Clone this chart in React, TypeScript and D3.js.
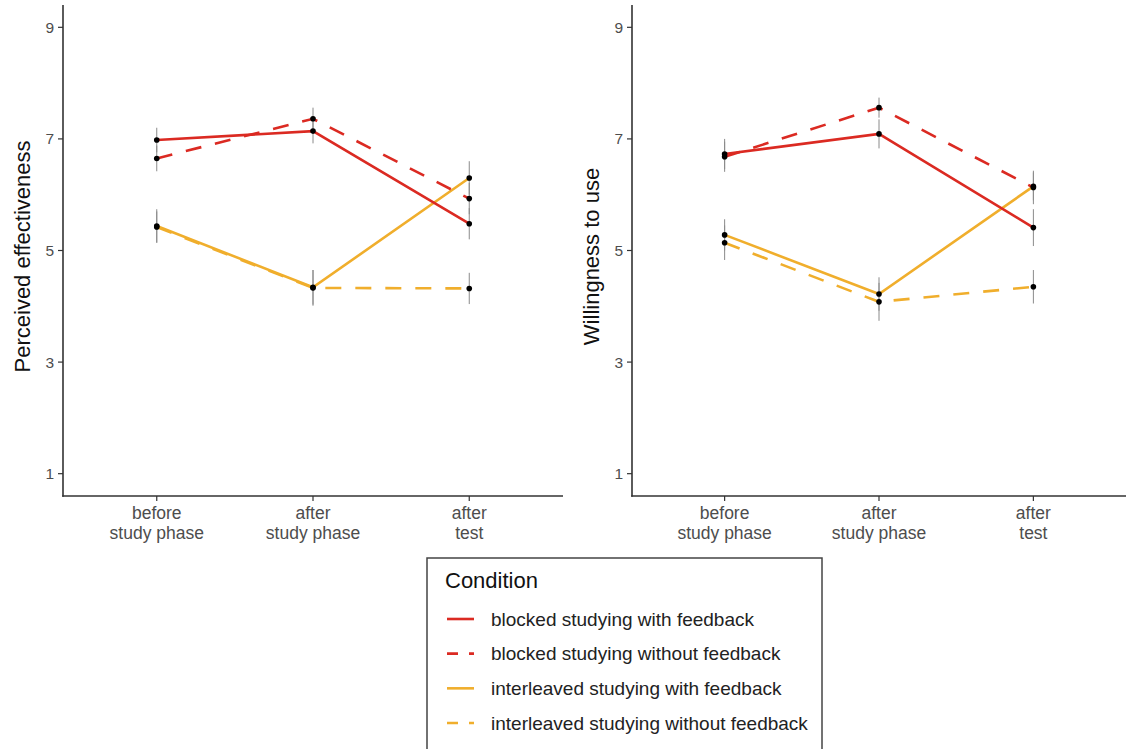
import React from "react";
import * as d3 from "d3";

const timepoints = ["before|study phase", "after|study phase", "after|test"];
const conditions = [
  "blocked studying with feedback",
  "blocked studying without feedback",
  "interleaved studying with feedback",
  "interleaved studying without feedback",
];
const conditionColors = ["#db2a22", "#db2a22", "#f0ae2c", "#f0ae2c"];
const conditionDashed = [false, true, false, true];
const yTicks = [1, 3, 5, 7, 9];

// Perceived effectiveness means
const effBlockedFB = [6.98, 7.14, 5.48];
const effBlockedNoFB = [6.65, 7.36, 5.93];
const effInterFB = [5.44, 4.34, 6.3];
const effInterNoFB = [5.42, 4.33, 4.32];
// Perceived effectiveness error half-widths
const effErrBlockedFB = [0.22, 0.22, 0.28];
const effErrBlockedNoFB = [0.23, 0.2, 0.28];
const effErrInterFB = [0.3, 0.31, 0.3];
const effErrInterNoFB = [0.28, 0.32, 0.28];

// Willingness to use means
const willBlockedFB = [6.73, 7.09, 5.41];
const willBlockedNoFB = [6.68, 7.56, 6.13];
const willInterFB = [5.28, 4.22, 6.15];
const willInterNoFB = [5.14, 4.08, 4.35];
// Willingness error half-widths
const willErrBlockedFB = [0.27, 0.26, 0.33];
const willErrBlockedNoFB = [0.27, 0.18, 0.3];
const willErrInterFB = [0.28, 0.3, 0.25];
const willErrInterNoFB = [0.31, 0.34, 0.3];

const panels = [
  {
    title: "Perceived effectiveness",
    means: [effBlockedFB, effBlockedNoFB, effInterFB, effInterNoFB],
    errs: [effErrBlockedFB, effErrBlockedNoFB, effErrInterFB, effErrInterNoFB],
    left: 63,
    right: 563,
    titleX: 30,
  },
  {
    title: "Willingness to use",
    means: [willBlockedFB, willBlockedNoFB, willInterFB, willInterNoFB],
    errs: [willErrBlockedFB, willErrBlockedNoFB, willErrInterFB, willErrInterNoFB],
    left: 632,
    right: 1126,
    titleX: 599,
  },
];

const FONT = "'Liberation Sans', Arial, sans-serif";
const TOP = 5;
const BOTTOM = 496;

function Panel({ p }: { p: (typeof panels)[number] }) {
  const x = d3.scalePoint<string>().domain(timepoints).range([p.left, p.right]).padding(0.6);
  const y = d3.scaleLinear().domain([0.6, 9.4]).range([BOTTOM, TOP]);
  const line = d3
    .line<number>()
    .x((_, i) => x(timepoints[i]) as number)
    .y((v) => y(v));
  const order = [3, 2, 1, 0];
  return (
    <g>
      {order.map((ci) => (
        <path
          key={"l" + ci}
          d={line(p.means[ci]) as string}
          fill="none"
          stroke={conditionColors[ci]}
          strokeWidth={2.6}
          strokeDasharray={conditionDashed[ci] ? "16,14" : undefined}
        />
      ))}
      {order.map((ci) =>
        p.means[ci].map((v, i) => (
          <line
            key={"e" + ci + "-" + i}
            x1={x(timepoints[i])}
            x2={x(timepoints[i])}
            y1={y(v - p.errs[ci][i])}
            y2={y(v + p.errs[ci][i])}
            stroke="#8a8a8a"
            strokeWidth={1}
          />
        ))
      )}
      {order.map((ci) =>
        p.means[ci].map((v, i) => (
          <circle key={"p" + ci + "-" + i} cx={x(timepoints[i])} cy={y(v)} r={2.8} fill="#000" />
        ))
      )}
      {/* axes */}
      <line x1={p.left} x2={p.left} y1={TOP} y2={BOTTOM + 0.75} stroke="#333" strokeWidth={1.6} />
      <line x1={p.left - 0.8} x2={p.right} y1={BOTTOM} y2={BOTTOM} stroke="#333" strokeWidth={1.6} />
      {yTicks.map((t) => (
        <g key={"yt" + t}>
          <line x1={p.left - 5} x2={p.left} y1={y(t)} y2={y(t)} stroke="#333" strokeWidth={1.2} />
          <text
            x={p.left - 9}
            y={y(t)}
            dy="0.36em"
            textAnchor="end"
            fontSize={15.5}
            fill="#4d4d4d"
            fontFamily={FONT}
          >
            {t}
          </text>
        </g>
      ))}
      {timepoints.map((tp) => (
        <g key={"xt" + tp}>
          <line x1={x(tp)} x2={x(tp)} y1={BOTTOM} y2={BOTTOM + 5} stroke="#333" strokeWidth={1.2} />
          {tp.split("|").map((s, k) => (
            <text
              key={k}
              x={x(tp)}
              y={519 + k * 20}
              textAnchor="middle"
              fontSize={17.5}
              fill="#4d4d4d"
              fontFamily={FONT}
            >
              {s}
            </text>
          ))}
        </g>
      ))}
      <text
        transform={`translate(${p.titleX},${(y(9) + y(1)) / 2 + 6}) rotate(-90)`}
        textAnchor="middle"
        fontSize={22}
        fill="#111"
        fontFamily={FONT}
      >
        {p.title}
      </text>
    </g>
  );
}

export default function App() {
  const legendY = d3.scalePoint<string>().domain(conditions).range([619, 723]);
  return (
    <svg
      width={1126}
      height={749}
      style={{ position: "absolute", left: 0, top: 0, background: "#fff" }}
    >
      <rect x={0} y={0} width={1126} height={749} fill="#fff" />
      {panels.map((p) => (
        <Panel key={p.title} p={p} />
      ))}
      <g>
        <rect x={427} y={558} width={395} height={200} fill="#fff" stroke="#444" strokeWidth={1.5} />
        <text x={445} y={588} fontSize={22} fill="#111" fontFamily={FONT}>
          Condition
        </text>
        {conditions.map((c, i) => (
          <g key={c}>
            <line
              x1={447}
              x2={474}
              y1={legendY(c)}
              y2={legendY(c)}
              stroke={conditionColors[i]}
              strokeWidth={2.6}
              strokeDasharray={conditionDashed[i] ? "11,11" : undefined}
            />
            <text
              x={491}
              y={legendY(c)}
              dy="0.35em"
              fontSize={19}
              fill="#222"
              fontFamily={FONT}
            >
              {c}
            </text>
          </g>
        ))}
      </g>
    </svg>
  );
}
